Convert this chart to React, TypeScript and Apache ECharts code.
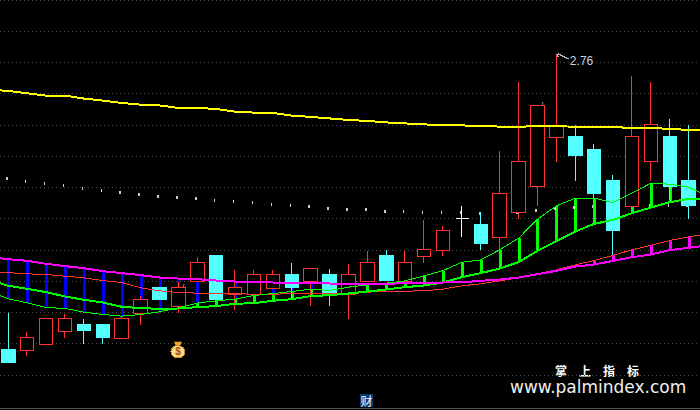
import React, { useEffect, useRef } from "react";
import * as echarts from "echarts";

// The first category sits just left of the visible window, so lines run in from the page's edge.
const categories = Array.from({ length: 39 }, (_, i) => String(i));
const gridStep = 0.05;
// open, close, low, high
const candles = [
  ["-", "-", "-", "-"],
  [2.29, 2.2692, 2.2692, 2.3492],
  [2.2884, 2.3092, 2.2804, 2.3188],
  [2.298, 2.3396, 2.298, 2.3396],
  [2.3188, 2.3396, 2.3092, 2.3476],
  [2.33, 2.3204, 2.2996, 2.3396],
  [2.33, 2.3092, 2.2996, 2.33],
  [2.3076, 2.3396, 2.3076, 2.3444],
  [2.3476, 2.37, 2.33, 2.3764],
  [2.3892, 2.37, 2.37, 2.3892],
  [2.3588, 2.3892, 2.3492, 2.3988],
  [2.3988, 2.4292, 2.3988, 2.4388],
  [2.4404, 2.37, 2.37, 2.4404],
  [2.378, 2.3892, 2.354, 2.418],
  [2.378, 2.41, 2.378, 2.418],
  [2.3876, 2.41, 2.3876, 2.418],
  [2.41, 2.3892, 2.3732, 2.4292],
  [2.3988, 2.4196, 2.3604, 2.4196],
  [2.41, 2.3812, 2.3604, 2.4196],
  [2.378, 2.41, 2.3396, 2.4276],
  [2.3988, 2.4292, 2.3988, 2.4484],
  [2.4404, 2.4004, 2.4004, 2.45],
  [2.3988, 2.4292, 2.3988, 2.4484],
  [2.4388, 2.45, 2.4292, 2.498],
  [2.4484, 2.4804, 2.4404, 2.4884],
  [2.4996, 2.4996, 2.4708, 2.5204],
  [2.49, 2.4596, 2.45, 2.5108],
  [2.4692, 2.5396, 2.45, 2.6084],
  [2.5092, 2.5908, 2.4996, 2.7188],
  [2.5508, 2.6804, 2.5204, 2.6804],
  [2.6292, 2.6484, 2.5908, 2.762],
  [2.6308, 2.6004, 2.5604, 2.65],
  [2.61, 2.5396, 2.5332, 2.6196],
  [2.5604, 2.4804, 2.442, 2.57],
  [2.5188, 2.6308, 2.5188, 2.7284],
  [2.5908, 2.65, 2.5604, 2.7188],
  [2.6308, 2.5508, 2.53, 2.6596],
  [2.5604, 2.5204, 2.4996, 2.65],
  [2.4708, 2.4404, 2.4404, 2.4708],
];
const yellowLine = [
  2.7065, 2.7044, 2.7007, 2.6969, 2.6969, 2.6922, 2.6889, 2.6852, 2.6825, 2.6812, 2.6772,
  2.6772, 2.6756, 2.6713, 2.6697, 2.6692, 2.6649, 2.6628, 2.6604, 2.658, 2.6564,
  2.654, 2.6524, 2.6508, 2.65, 2.6492, 2.6484, 2.6473, 2.6468, 2.6484, 2.6484,
  2.6468, 2.646, 2.646, 2.6457, 2.6452, 2.6436, 2.642, 2.6412,
];
const magentaLine = [
  2.438, 2.4351, 2.4324, 2.4276, 2.4239, 2.4207, 2.4159, 2.4127, 2.4095, 2.4057, 2.4041,
  2.4031, 2.4009, 2.3993, 2.3983, 2.3977, 2.3977, 2.3967, 2.3961, 2.3956, 2.3956,
  2.3956, 2.3967, 2.3972, 2.3977, 2.398, 2.4004, 2.4025, 2.4057, 2.4111, 2.4164,
  2.4233, 2.4265, 2.4324, 2.4383, 2.4425, 2.4495, 2.4532, 2.4572,
];
const redLine = [
  2.4156, 2.4135, 2.4116, 2.4105, 2.4079, 2.4052, 2.4009, 2.3977, 2.3892, 2.3844, 2.3817,
  2.3807, 2.3807, 2.3796, 2.3791, 2.3791, 2.3796, 2.3807, 2.3796, 2.3791, 2.3823,
  2.3833, 2.3839, 2.3844, 2.3871, 2.3924, 2.3956, 2.4004, 2.4052, 2.4116, 2.418,
  2.426, 2.4329, 2.4412, 2.45, 2.4572, 2.4649, 2.4708, 2.4756,
];
const thinGreenLine = [
  2.3836, 2.3716, 2.3652, 2.3577, 2.3561, 2.3503, 2.3465, 2.3439, 2.3465, 2.3508, 2.3572,
  2.3647, 2.3684, 2.3711, 2.3769, 2.3801, 2.3833, 2.3871, 2.3849, 2.3903, 2.394,
  2.3967, 2.4004, 2.4084, 2.4169, 2.43, 2.434, 2.45, 2.4687, 2.4991, 2.5204,
  2.5327, 2.5327, 2.5257, 2.5407, 2.5567, 2.5551, 2.5503, 2.5364,
];
const thickGreenLine = [
  2.402, 2.3924, 2.3876, 2.3823, 2.3753, 2.37, 2.3657, 2.3588, 2.3567, 2.3556, 2.3561,
  2.3583, 2.3599, 2.3636, 2.3647, 2.3684, 2.3711, 2.3759, 2.3775, 2.3801, 2.3833,
  2.3865, 2.3903, 2.3929, 2.3977, 2.4063, 2.4127, 2.4201, 2.4303, 2.4484, 2.4639,
  2.4793, 2.4916, 2.498, 2.5087, 2.5177, 2.5263, 2.5316, 2.5316,
];
const whiteDots = [
  2.5641, 2.5588, 2.5556, 2.5524, 2.5476, 2.5444, 2.5412, 2.538, 2.5348, 2.5332,
  2.5316, 2.5284, 2.5268, 2.5252, 2.522, 2.5204, 2.5188, 2.5156, 2.514, 2.514,
  2.5108, 2.5108, 2.5092, 2.5092, 2.5092, 2.5081, 2.5081, 2.5097, 2.5129, 2.5156,
  2.5172, 2.5188, 2.5204, 2.5204, 2.5204, 2.5204, 2.5204, 2.5204,
];
const peakLabel = "2.76";
const peakPoint = [30, 2.762];
const bagPoint = [10, 2.29];
const signPoints = [
  [10, 2.3844],
  [29, 2.6756],
];

const RED = "#FF3232";
const CYAN = "#54FFFF";
const OFFSET = 20; // the chart's div starts this far left of the page

const spanBars = (hi: number[], lo: number[]) =>
  hi.map((h, i) => [i, h, lo[i]]).filter((r) => r[0] > 0 && r[1] > r[2]);

const renderSpan = (params: any, api: any) => {
  const a = api.coord([api.value(0), api.value(1)]);
  const b = api.coord([api.value(0), api.value(2)]);
  return {
    type: "rect",
    shape: { x: Math.round(a[0]) - 1, y: Math.round(a[1]), width: 3, height: Math.round(b[1] - a[1]) },
    style: { fill: api.visual("color") },
  };
};

const spanSeries = (hi: number[], lo: number[], color: string) => ({
  type: "custom",
  data: spanBars(hi, lo),
  encode: { x: 0, y: [1, 2] },
  itemStyle: { color },
  renderItem: renderSpan,
  silent: true,
});

const lineSeries = (data: number[], color: string, width: number) => ({
  type: "line",
  data,
  symbol: "none",
  smooth: false,
  lineStyle: { color, width },
  silent: true,
});

export default function App() {
  const ref = useRef<HTMLDivElement>(null);
  useEffect(() => {
    if (!ref.current) return;
    const chart = echarts.init(ref.current, undefined, { renderer: "svg" });
    chart.setOption({
      animation: false,
      backgroundColor: "#000000",
      grid: { left: 0, right: 3, top: 0, bottom: 4 },
      xAxis: {
        type: "category",
        data: categories,
        boundaryGap: true,
        axisLine: { show: false },
        axisTick: { show: false },
        axisLabel: { show: false },
        splitLine: { show: false },
      },
      yAxis: {
        type: "value",
        min: 2.2,
        max: 2.85,
        interval: gridStep,
        axisLine: { show: false },
        axisTick: { show: false },
        axisLabel: { show: false },
        splitLine: {
          show: true,
          showMinLine: false,
          lineStyle: { color: "#4a4a4a", width: 1, type: [1, 3] },
        },
      },
      series: [
        {
          type: "scatter",
          data: whiteDots.map((v, i) => [i + 1, v]),
          symbol: "rect",
          symbolSize: [1.5, 3],
          symbolOffset: [-1.5, 0],
          itemStyle: { color: "#FFFFFF" },
          silent: true,
        },
        {
          type: "candlestick",
          data: candles,
          barWidth: 14,
          itemStyle: {
            color: "#000000",
            color0: CYAN,
            borderColor: RED,
            borderColor0: CYAN,
            borderColorDoji: "#FFFFFF",
            borderWidth: 1,
          },
          silent: true,
        },
        lineSeries(yellowLine, "#FFFF00", 2),
        lineSeries(redLine, RED, 1),
        lineSeries(thinGreenLine, "#00FF00", 1),
        lineSeries(thickGreenLine, "#00FF00", 2),
        lineSeries(magentaLine, "#FF00FF", 2),
        spanSeries(magentaLine, thinGreenLine, "#0000FF"),
        spanSeries(thinGreenLine, thickGreenLine, "#00FF00"),
        spanSeries(redLine, magentaLine, "#FF00FF"),
        {
          type: "custom",
          data: signPoints,
          encode: { x: 0, y: 1 },
          silent: true,
          renderItem: (params: any, api: any) => {
            const p = api.coord([api.value(0), api.value(1)]);
            return {
              type: "group",
              x: p[0] + 3,
              y: p[1],
              children: [
                { type: "line", shape: { x1: 2, y1: -2, x2: 2, y2: -6 }, style: { stroke: "#3aa0a0", lineWidth: 1 } },
                { type: "line", shape: { x1: 2, y1: -6, x2: 4, y2: -6 }, style: { stroke: "#a03030", lineWidth: 1 } },
                { type: "circle", shape: { cx: 0, cy: 0, r: 2.6 }, style: { fill: "none", stroke: "#FFFFFF", lineWidth: 1.2 } },
              ],
            };
          },
        },
        {
          type: "custom",
          data: [bagPoint],
          encode: { x: 0, y: 1 },
          silent: true,
          renderItem: (params: any, api: any) => {
            const p = api.coord([api.value(0), api.value(1)]);
            return {
              type: "group",
              x: p[0] - 0.5,
              y: p[1],
              children: [
                { type: "polygon", shape: { points: [[-4, -8], [4, -8], [2, -4], [-2, -4]] }, style: { fill: "#E8A830", stroke: "#7a4a10", lineWidth: 0.6 } },
                { type: "ellipse", shape: { cx: 0, cy: 2, rx: 7, ry: 6.2 }, style: { fill: "#F8DC80", stroke: "#C88820", lineWidth: 1 } },
                { type: "text", style: { text: "$", x: 0, y: 2, fill: "#A84818", font: "bold 10px 'Liberation Sans'", align: "center", verticalAlign: "middle" } },
              ],
            };
          },
        },
        {
          type: "custom",
          data: [peakPoint],
          encode: { x: 0, y: 1 },
          silent: true,
          renderItem: (params: any, api: any) => {
            const p = api.coord([api.value(0), api.value(1)]);
            return {
              type: "group",
              x: p[0],
              y: p[1],
              children: [
                { type: "polyline", shape: { points: [[2, 2], [0, 0], [2, -1], [12, 4]] }, style: { fill: "none", stroke: "#B8B8B8", lineWidth: 1 } },
                { type: "text", style: { text: peakLabel, x: 13.5, y: 6, fill: "#C8D4E0", font: "12px 'Liberation Sans'", align: "left", verticalAlign: "middle" } },
              ],
            };
          },
        },
      ],
      graphic: [
        { type: "line", silent: true, shape: { x1: 0, y1: 408.5, x2: 740, y2: 408.5 }, style: { stroke: "#505050", lineWidth: 1 } },
        { type: "rect", silent: true, shape: { x: 360 + OFFSET, y: 394, width: 13, height: 13 }, style: { fill: "#003C78" } },
        { type: "text", silent: true, x: 366.5 + OFFSET, y: 400.5, style: { text: "财", fill: "#FFFFFF", font: "12px 'Noto Sans CJK SC'", align: "center", verticalAlign: "middle" } },
        { type: "text", silent: true, x: 555 + OFFSET, y: 370, style: { text: "掌\u3000上\u3000指\u3000标", fill: "#FFFFFF", font: "bold 12px 'Noto Sans CJK SC'", align: "left", verticalAlign: "middle" } },
        { type: "text", silent: true, x: 510 + OFFSET, y: 387, style: { text: "www.palmindex.com", fill: "#F0F0F0", font: "17px 'DejaVu Sans'", align: "left", verticalAlign: "middle" } },
      ],
    });
    return () => chart.dispose();
  }, []);
  return (
    <>
      <style>{`html,body{margin:0;padding:0;background:#000;overflow:hidden}#kline svg *{shape-rendering:crispEdges}#kline svg text{shape-rendering:auto}`}</style>
      <div style={{ position: "relative", width: 700, height: 410, overflow: "hidden" }}>
        <div id="kline" ref={ref} style={{ position: "absolute", left: -OFFSET, top: 0, width: 740, height: 410 }} />
      </div>
    </>
  );
}
